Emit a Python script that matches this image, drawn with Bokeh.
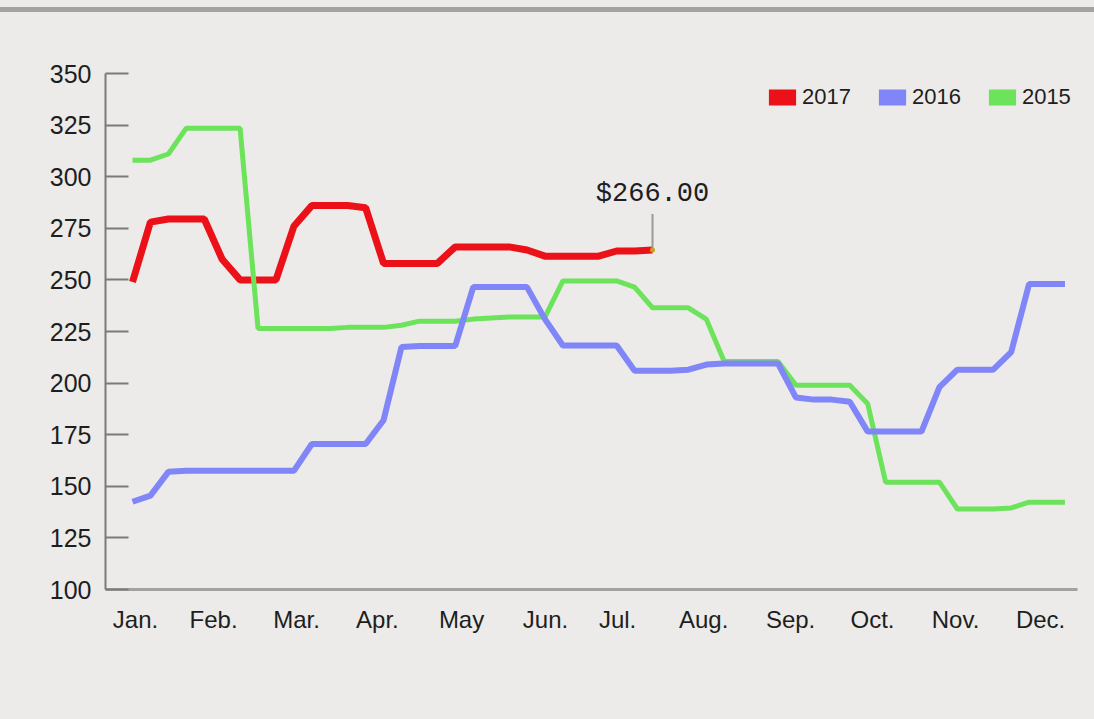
from bokeh.plotting import figure
from bokeh.models import Range1d, FixedTicker, Legend, LegendItem
from bokeh.core.properties import value
from bokeh.embed import file_html
from bokeh.resources import INLINE

# ---- data -------------------------------------------------------------
months = ["Jan.", "Feb.", "Mar.", "Apr.", "May", "Jun.", "Jul.", "Aug.",
          "Sep.", "Oct.", "Nov.", "Dec."]
# month label positions on the weekly axis (week index)
month_pos = [0.17, 4.52, 9.15, 13.66, 18.35, 23.03, 27.05, 31.85,
             36.7, 41.27, 45.9, 50.64]
y_ticks = [100, 125, 150, 175, 200, 225, 250, 275, 300, 325, 350]

price_2017 = [249, 278, 279.5, 279.5, 279.5, 260, 250, 250, 250, 276,
              286, 286, 286, 285, 258, 258, 258, 258, 266, 266,
              266, 266, 264.5, 261.5, 261.5, 261.5, 261.5, 264, 264, 264.5]

price_2016 = [142.5, 145.5, 157, 157.5, 157.5, 157.5, 157.5, 157.5, 157.5, 157.5,
              170.5, 170.5, 170.5, 170.5, 182, 217.5, 218, 218, 218, 246.5,
              246.5, 246.5, 246.5, 231, 218.2, 218.2, 218.2, 218.2, 206, 206,
              206, 206.5, 209, 209.5, 209.5, 209.5, 209.5, 193, 192, 192,
              191, 176.5, 176.5, 176.5, 176.5, 198, 206.5, 206.5, 206.5, 215,
              248, 248, 248]

price_2015 = [308, 308, 311, 323.5, 323.5, 323.5, 323.5, 226.5, 226.5, 226.5,
              226.5, 226.5, 227, 227, 227, 228, 230, 230, 230, 231,
              231.5, 232, 232, 232, 249.5, 249.5, 249.5, 249.5, 246.5, 236.5,
              236.5, 236.5, 231, 210.5, 210.5, 210.5, 210.5, 199, 199, 199,
              199, 190, 152, 152, 152, 152, 139, 139, 139, 139.5,
              142.3, 142.3, 142.3]

series_names = ["2017", "2016", "2015"]
last_label = "$266.00"

# ---- styles -----------------------------------------------------------
BG = "#ecebe9"
RED = "#ec1118"
BLUE = "#8085f8"
GREEN = "#6ce35b"
FONT = "Liberation Sans"
TXT = "#1e1e1e"

p = figure(width=1094, height=705, output_backend="svg", toolbar_location=None,
           x_range=Range1d(-1.506, 52.7), y_range=Range1d(100, 350),
           min_border_left=105, min_border_right=17, min_border_top=61,
           min_border_bottom=128)
p.background_fill_color = BG
p.border_fill_color = BG
p.outline_line_color = None
p.grid.visible = False

x17 = list(range(len(price_2017)))
x16 = list(range(len(price_2016)))
x15 = list(range(len(price_2015)))

p.line(x17, price_2017, line_color=RED, line_width=7)
p.line(x15, price_2015, line_color=GREEN, line_width=5)
p.line(x16, price_2016, line_color=BLUE, line_width=6)

# last-value marker
lx, ly = x17[-1], price_2017[-1]
p.ray(x=[lx], y=[ly], length=36, length_units="screen", angle=90,
      angle_units="deg", line_color="#9a9a9a", line_width=2)
p.scatter(x=[lx], y=[ly], size=5, fill_color="#c9a21a", line_color=None)
p.text(x=[lx], y=[ly], text=[last_label], text_align="center",
       text_baseline="bottom", y_offset=-41,
       text_font=value("Liberation Mono"), text_font_size="27px",
       text_color="#1e1e1e")

# axes
p.yaxis.ticker = FixedTicker(ticks=y_ticks)
p.yaxis.major_tick_in = 23
p.yaxis.major_tick_out = 0
p.yaxis.minor_tick_line_color = None
p.yaxis.axis_line_color = "#7a7a7a"
p.yaxis.axis_line_width = 2
p.yaxis.major_tick_line_color = "#7a7a7a"
p.yaxis.major_tick_line_width = 2
p.yaxis.major_label_standoff = 14
p.yaxis.major_label_text_font = FONT
p.yaxis.major_label_text_font_size = "25px"
p.yaxis.major_label_text_color = TXT

p.xaxis.ticker = FixedTicker(ticks=month_pos)
p.xaxis.major_label_overrides = {pos: m for pos, m in zip(month_pos, months)}
p.xaxis.major_tick_in = 0
p.xaxis.major_tick_out = 0
p.xaxis.minor_tick_line_color = None
p.xaxis.axis_line_color = "#a2a2a2"
p.xaxis.axis_line_width = 3
p.xaxis.major_label_standoff = 16
p.xaxis.major_label_text_font = FONT
p.xaxis.major_label_text_font_size = "24px"
p.xaxis.major_label_text_color = TXT

# legend with filled swatches (legend-only renderers, nothing drawn in frame)
nan = float("nan")
swatches = []
for name, col in zip(series_names, [RED, BLUE, GREEN]):
    r = p.quad(left=[nan], right=[nan], top=[nan], bottom=[nan],
               fill_color=col, line_color=None)
    swatches.append(LegendItem(label=name, renderers=[r]))

legend = Legend(items=swatches, orientation="horizontal", location=(660, 479),
                glyph_width=34, glyph_height=20, label_standoff=3, spacing=24,
                padding=0, margin=0, border_line_color=None,
                background_fill_alpha=0, label_text_font=FONT,
                label_text_font_size="22px", label_text_color=TXT)
p.add_layout(legend)

html = file_html(p, INLINE, title="Prices")
html = html.replace(
    "</head>",
    "<style>html{background:%s;padding-top:7px;}"
    "body{background:%s;border-top:5px solid #a3a3a3;}</style></head>" % (BG, BG), 1)
open("out.html", "w").write(html)
